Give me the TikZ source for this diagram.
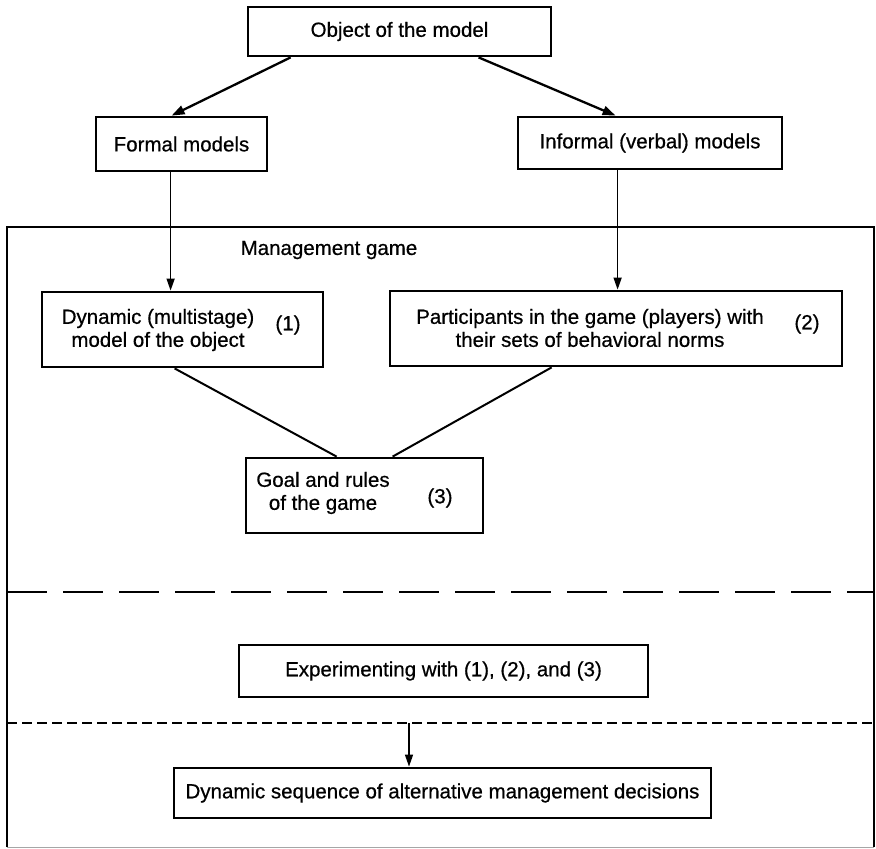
\documentclass[tikz,border=0pt]{standalone}
\usepackage{fontspec}
\setmainfont{Liberation Sans}[FakeBold=0.6]
\newfontface\medfont{Liberation Sans}[FakeBold=0.6]
\usetikzlibrary{arrows.meta,calc}

\begin{document}
\begin{tikzpicture}[x=1pt,y=-1pt,
  every node/.style={font=\medfont\fontsize{20.5}{23}\selectfont},
  box/.style={draw,line width=2.8pt,inner sep=0pt,rectangle},
  txt/.style={inner sep=0pt,align=center},
  arr/.style={-{Triangle[length=12pt,width=8pt]},line width=1.5pt},
  bigarr/.style={-{Triangle[length=13pt,width=9pt]},line width=2.3pt},
  link/.style={line width=2pt},
  frame/.style={line width=2.2pt}
]
\useasboundingbox (0,0) rectangle (876,849);

% upper level
\node[box,minimum width=303pt,minimum height=49pt] (obj) at (399.5,31.5) {Object of the model};
\node[box,minimum width=171pt,minimum height=54pt] (formal) at (181.5,144) {Formal models};
\node[box,minimum width=264pt,minimum height=52pt] (informal) at (650,143) {Informal (verbal) models};

% management game frame
\coordinate (ftl) at (7,227);
\coordinate (ftr) at (874,227);
\coordinate (fbl) at (7,847);
\coordinate (fbr) at (874,847);
\draw[frame] (fbl) -- (ftl) -- (ftr) -- (fbr);
\draw[line width=1pt,black!35] (fbl) -- (fbr);
\node[txt] (mg) at (329,250) {Management game};

% components of the game
\node[box,minimum width=281pt,minimum height=75pt] (b1) at (182.5,329.5) {};
\node[txt] (b1t) at (158,330) {Dynamic (multistage)\\model of the object};
\node[txt] (b1n) at (288,325) {(1)};

\node[box,minimum width=452pt,minimum height=75pt] (b2) at (616,328.5) {};
\node[txt] (b2t) at (590,328) {Participants in the game (players) with\\their sets of behavioral norms};
\node[txt] (b2n) at (807,324) {(2)};

\node[box,minimum width=237pt,minimum height=75pt] (b3) at (364.5,495.5) {};
\node[txt] (b3t) at (323,493) {Goal and rules\\of the game};
\node[txt] (b3n) at (440,498) {(3)};

% separators
\coordinate (d1l) at (7,592);
\coordinate (d1r) at (874,592);
\coordinate (d2l) at (7,723);
\coordinate (d2r) at (874,723);
\draw[line width=2.6pt,dash pattern=on 40pt off 16pt] (d1l) -- (d1r);
\draw[line width=2.2pt,dash pattern=on 10pt off 5pt] (d2l) -- (d2r);

\node[box,minimum width=409pt,minimum height=52pt] (exp) at (443.5,671) {Experimenting with (1), (2), and (3)};
\node[box,minimum width=537pt,minimum height=50pt] (dec) at (442.5,793) {Dynamic sequence of alternative management decisions};

% connectors
\draw[bigarr] ($(obj.south west)+(44,0)$) -- ($(formal.north west)+(77,0)$);
\draw[bigarr] ($(obj.south west)+(232,0)$) -- ($(informal.north west)+(99,0)$);
\draw[arr] ($(formal.south west)+(76,0)$) -- ($(b1.north west)+(130,0)$);
\draw[arr] ($(informal.south west)+(101,0)$) -- ($(b2.north west)+(229,0)$);
\draw[link] ($(b1.south west)+(134,0)$) -- ($(b3.north west)+(92,0)$);
\draw[link] ($(b2.south west)+(163,0)$) -- ($(b3.north west)+(148,0)$);
\coordinate (d2a) at (409,723);
\draw[arr] (d2a) -- (dec.north -| d2a);
\end{tikzpicture}
\end{document}
